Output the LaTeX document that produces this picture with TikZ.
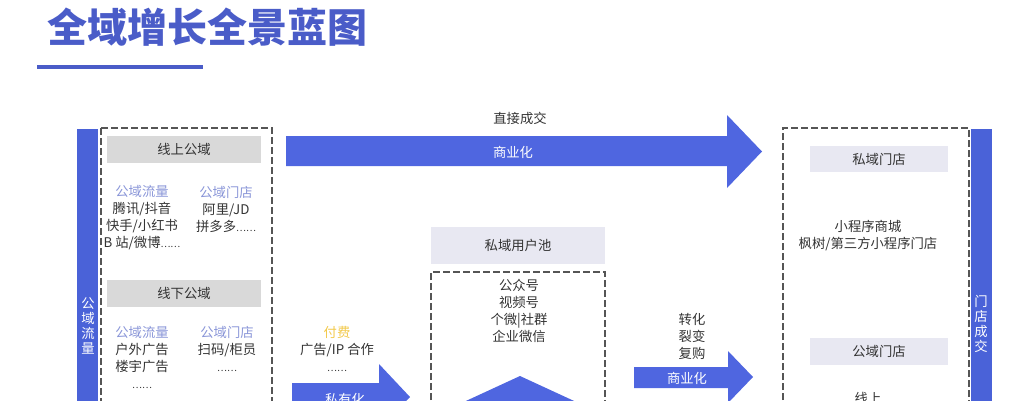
\documentclass[tikz,border=0pt]{standalone}
\usepackage{fontspec}
\setmainfont{Noto Sans CJK SC}
\usetikzlibrary{positioning}
\definecolor{mainBlue}{HTML}{4F66E0}
\definecolor{barBlue}{HTML}{4A62D8}
\definecolor{titleBlue}{HTML}{4A5CC8}
\definecolor{headGray}{HTML}{D9D9D9}
\definecolor{headLilac}{HTML}{E8E8F2}
\definecolor{tagBlue}{HTML}{8A96D8}
\definecolor{feeYellow}{HTML}{F2C94C}
\definecolor{textGray}{HTML}{333333}
\definecolor{dashGray}{HTML}{555555}
\newcommand{\moreDots}{{\fontsize{7}{7}\selectfont ……}}

\begin{document}
\begin{tikzpicture}[x = 0.75pt, y = -0.75pt, font = \fontsize{10}{12.75}\selectfont]
	\tikzstyle{grayHead} = [fill = headGray, text = textGray, minimum width = 116pt, minimum height = 20pt, inner sep = 0pt]
	\tikzstyle{lilacHead} = [fill = headLilac, text = textGray, minimum width = 103.5pt, minimum height = 20pt, inner sep = 0pt]
	\tikzstyle{poolHead} = [fill = headLilac, text = textGray, minimum width = 130pt, minimum height = 27.5pt, inner sep = 0pt]
	\tikzstyle{textBlock} = [align = center, text = textGray, inner sep = 0pt]
	\tikzstyle{dashBox} = [draw = dashGray, line width = 0.9pt, dash pattern = on 5pt off 2.5pt]
	\tikzstyle{sideBar} = [fill = barBlue]
	\tikzstyle{sideText} = [align = center, text = white, inner sep = 0pt, font = \fontsize{10}{11.25}\selectfont]
	\tikzstyle{arrowFill} = [fill = mainBlue]
	\tikzstyle{arrowText} = [text = white, inner sep = 0pt]
	\useasboundingbox (0,0) rectangle (1016,400);
	\clip (0,0) rectangle (1016,400);
	\node[text = titleBlue, font = \fontsize{30}{32}\bfseries] (title) at (207,27) {全域增长全景蓝图};
	\draw[titleBlue, line width = 3pt] (37,67) -- (203,67);
	\fill[sideBar] (77,129) rectangle (98,420);
	\node[sideText] (pubFlow) at (88,326) {公\\域\\流\\量};
	\draw[dashBox] (101,128) -- (101,420) (101,128) -- (272,128) -- (272,420);
	\node[grayHead] (online) at (184,149.5) {线上公域};
	\node[textBlock] (onFlow) at (142,218) {\textcolor{tagBlue}{公域流量}\\腾讯/抖音\\快手/小红书\\B 站/微博\moreDots};
	\node[textBlock] (onShop) at (226,209.5) {\textcolor{tagBlue}{公域门店}\\阿里/JD\\拼多多\moreDots};
	\node[grayHead] (offline) at (184,293.5) {线下公域};
	\node[textBlock] (offFlow) at (142,357) {\textcolor{tagBlue}{公域流量}\\户外广告\\楼宇广告\\\moreDots};
	\node[textBlock] (offShop) at (227,349) {\textcolor{tagBlue}{公域门店}\\扫码/柜员\\\moreDots};
	\fill[arrowFill] (286,136) -- (727,136) -- (727,115) -- (762,151.5) -- (727,188) -- (727,166) -- (286,166) -- cycle;
	\node[textBlock] (direct) at (520,118) {直接成交};
	\node[arrowText] (bizTop) at (513,152) {商业化};
	\node[textBlock] (paid) at (337,349) {\textcolor{feeYellow}{付费}\\广告/IP 合作\\\moreDots};
	\fill[arrowFill] (292,383) -- (379,383) -- (379,364) -- (410,397) -- (379,430) -- (379,411) -- (292,411) -- cycle;
	\node[arrowText] (private) at (345,399) {私有化};
	\node[poolHead] (pool) at (518,245.5) {私域用户池};
	\draw[dashBox] (431,420) -- (431,272) -- (605,272) -- (605,420);
	\node[textBlock] (channels) at (519,310.5) {公众号\\视频号\\个微|社群\\企业微信};
	\fill[arrowFill] (520,376) -- (598,412) -- (442,412) -- cycle;
	\node[textBlock] (convert) at (692,336) {转化\\裂变\\复购};
	\fill[arrowFill] (634,367) -- (728,367) -- (728,351) -- (753,377) -- (728,403) -- (728,388) -- (634,388) -- cycle;
	\node[arrowText] (bizLow) at (687,378) {商业化};
	\draw[dashBox] (783,420) -- (783,128) -- (969,128) -- (969,420);
	\fill[sideBar] (971,129) rectangle (992,420);
	\node[sideText] (shopDeal) at (981,324) {门\\店\\成\\交};
	\node[lilacHead] (privShop) at (879,159) {私域门店};
	\node[textBlock] (miniApp) at (868,236) {小程序商城\\枫树/第三方小程序门店};
	\node[lilacHead] (pubShop) at (879,351.5) {公域门店};
	\node[textBlock, anchor = north] (onlineShop) at (868,392) {线上};
\end{tikzpicture}
\end{document}
